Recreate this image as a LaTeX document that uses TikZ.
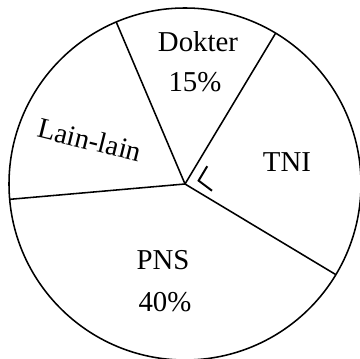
\documentclass[tikz,border=0pt]{standalone}
\usepackage{fontspec}
\setmainfont{Liberation Serif}
\usepackage{tikz}
\usetikzlibrary{positioning,calc}

\tikzset{
    label text/.style={font=\fontsize{20.5}{24}\selectfont, inner sep=0pt},
    sector line/.style={line width=1.1pt}
}

\begin{document}
\begin{tikzpicture}
    \useasboundingbox (0,0) rectangle (9,8.975);
    \clip (0,0) rectangle (9,8.975);

    % Lingkaran
    \coordinate (pusat) at (4.625,4.375);
    \draw[sector line] (pusat) circle (4.4);

    % Batas sektor
    \coordinate (b_dokter_tni) at ($(pusat)+(59:4.4)$);
    \coordinate (b_lain_dokter) at ($(pusat)+(113:4.4)$);
    \coordinate (b_pns_lain) at ($(pusat)+(185:4.4)$);
    \coordinate (b_tni_pns) at ($(pusat)+(-31:4.4)$);
    \draw[sector line] (pusat) -- (b_dokter_tni);
    \draw[sector line] (pusat) -- (b_lain_dokter);
    \draw[sector line] (pusat) -- (b_pns_lain);
    \draw[sector line] (pusat) -- (b_tni_pns);

    % Tanda siku
    \coordinate (siku) at ($(pusat)+(14:0.35)$);
    \draw[line width=1.4pt] ($(siku)+(59:0.42)$) -- (siku) -- ($(siku)+(-37:0.42)$);

    % Label
    \node[label text] (dokter) at (4.95,7.925) {Dokter};
    \node[label text] (dokter_pct) at (4.875,6.925) {15\%};
    \node[label text, rotate=-14] (lain) at (2.25,5.475) {Lain-lain};
    \node[label text] (tni) at (7.175,4.925) {TNI};
    \node[label text] (pns) at (4.075,2.475) {PNS};
    \node[label text] (pns_pct) at (4.125,1.425) {40\%};
\end{tikzpicture}
\end{document}
